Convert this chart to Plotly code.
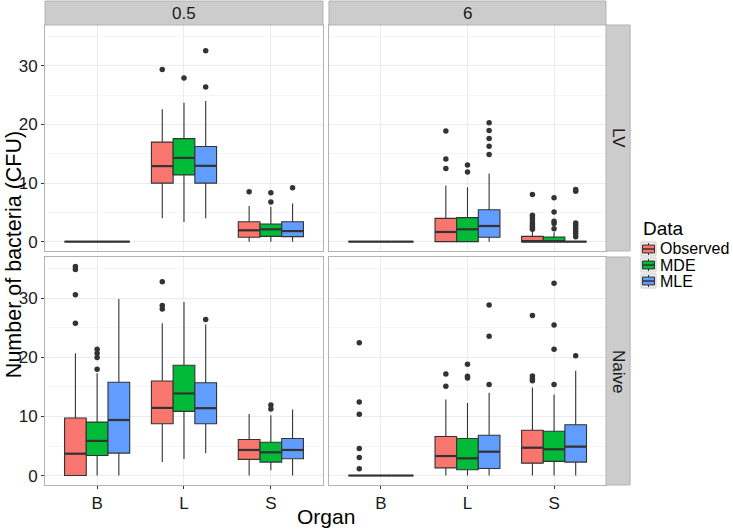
import plotly.graph_objects as go

organs = ["B", "L", "S"]
times = ["0.5", "6"]
groups = ["LV", "Naive"]
series = ["Observed", "MDE", "MLE"]
colors = ["#F8766D", "#00BA38", "#619CFF"]

# facet order: (LV,0.5), (LV,6), (Naive,0.5), (Naive,6); within each facet organs B, L, S
obs_lower = [0, 4.0, 0,    0, 0, 0,     0, 2.28, 0,     0, 0, 0]
obs_q1 =    [0, 10.0, 0.74, 0, 0, 0,    0, 8.76, 2.73,  0, 1.3, 2.1]
obs_med =   [0, 12.9, 1.93, 0, 1.65, 0, 3.7, 11.45, 4.33, 0, 3.3, 4.72]
obs_q3 =    [0, 17.0, 3.4,  0, 3.98, 0.9, 9.73, 16.0, 6.1, 0, 6.6, 7.68]
obs_upper = [0, 22.6, 6.1,  0, 9.6, 1.8, 20.7, 25.8, 10.4, 0, 12.86, 14.9]

mde_lower = [0, 3.35, 0,   0, 0, 0,     0, 2.8, 0.9,    0, 0, 0]
mde_q1 =    [0, 11.4, 0.9, 0, 0, 0,     3.4, 10.87, 2.28, 0, 0.97, 2.4]
mde_med =   [0, 14.3, 2.1, 0, 2.1, 0,   5.86, 13.9, 3.93, 0, 2.9, 4.44]
mde_q3 =    [0, 17.6, 3.0, 0, 4.1, 0.8, 9.05, 18.67, 5.63, 0, 6.26, 7.5]
mde_upper = [0, 23.7, 5.97, 0, 9.3, 1.6, 17.3, 29.4, 10.2, 0, 12.3, 13.7]

mle_lower = [0, 4.0, 0,    0, 0, 0,      0, 3.76, 0,    0, 0, 0]
mle_q1 =    [0, 10.0, 0.85, 0, 0.74, 0,  3.8, 8.76, 2.85, 0, 1.2, 2.28]
mle_med =   [0, 12.95, 1.8, 0, 2.67, 0,  9.4, 11.4, 4.33, 0, 4.04, 4.9]
mle_q3 =    [0, 16.25, 3.4, 0, 5.45, 0,  15.8, 15.7, 6.26, 0, 6.83, 8.6]
mle_upper = [0, 24.0, 6.5,  0, 11.65, 0, 29.9, 25.55, 11.2, 0, 14.0, 17.76]

obs_outliers = [[], [29.4], [8.5],
                [], [18.9, 14.1, 12.5], [8.07, 4.5, 4.1, 3.7, 3.2, 2.8, 2.4, 2.1],
                [35.4, 34.9, 30.6, 25.8], [32.8, 28.8, 28.2], [],
                [22.5, 12.46, 10.36, 4.6, 3.07, 1.14], [17.2, 15.1], [27.1, 16.85, 16.4, 16.05]]
mde_outliers = [[], [27.95], [8.35, 6.76],
                [], [13.07, 11.9], [7.5, 5.05, 3.5, 3.1, 2.2],
                [21.4, 20.7, 20.0, 18.0], [], [11.95, 11.27],
                [], [18.84, 16.8, 16.5], [32.55, 25.5, 21.4, 15.4]]
mle_outliers = [[], [32.6, 26.4], [9.2],
                [], [20.3, 19.0, 17.6, 16.3, 14.9], [8.9, 8.6, 3.2, 2.8, 2.3, 1.8, 1.4, 0.85],
                [], [26.4], [],
                [], [28.86, 23.56, 15.4], [20.26]]

stats = [
    (obs_lower, obs_q1, obs_med, obs_q3, obs_upper, obs_outliers),
    (mde_lower, mde_q1, mde_med, mde_q3, mde_upper, mde_outliers),
    (mle_lower, mle_q1, mle_med, mle_q3, mle_upper, mle_outliers),
]

dodge = [-0.25, 0.0, 0.25]
box_w = 0.25
line_col = "#333333"
FONT = "Liberation Sans, Arial, sans-serif"
W, H = 733, 529
ML, MR, MT, MB = 45, 127, 25, 44
PW, PH = W - ML - MR, H - MT - MB

fig = go.Figure()

for f in range(4):
    ax = "" if f == 0 else str(f + 1)
    sl = slice(3 * f, 3 * f + 3)
    for s in range(3):
        lo, q1, md, q3, up, outl = stats[s]
        xs = [i + 1 + dodge[s] for i in range(3)]
        fig.add_trace(go.Box(
            x=xs, q1=q1[sl], median=md[sl], q3=q3[sl],
            lowerfence=lo[sl], upperfence=up[sl],
            width=box_w, whiskerwidth=0,
            fillcolor=colors[s], line=dict(color=line_col, width=1.1),
            name=series[s], showlegend=False,
            boxpoints=False, xaxis="x" + ax, yaxis="y" + ax, hoverinfo="skip",
        ))
        # thicker median bar, as ggplot draws it
        mx, my = [], []
        for i, m in enumerate(md[sl]):
            mx += [xs[i] - box_w / 2, xs[i] + box_w / 2, None]
            my += [m, m, None]
        fig.add_trace(go.Scatter(
            x=mx, y=my, mode="lines", line=dict(color=line_col, width=2.2),
            showlegend=False, xaxis="x" + ax, yaxis="y" + ax, hoverinfo="skip",
        ))
        px, py = [], []
        for i in range(3):
            for v in outl[3 * f + i]:
                px.append(i + 1 + dodge[s])
                py.append(v)
        if px:
            fig.add_trace(go.Scatter(
                x=px, y=py, mode="markers",
                marker=dict(color=line_col, size=5.5),
                showlegend=False, xaxis="x" + ax, yaxis="y" + ax, hoverinfo="skip",
            ))

col_dom = [[0, 0.4955], [0.5062, 1]]
row_dom = [[0.5087, 1], [0, 0.4957]]

layout = dict(
    width=W, height=H,
    margin=dict(l=ML, r=MR, t=MT, b=MB, autoexpand=False),
    paper_bgcolor="white", plot_bgcolor="white",
    font=dict(family=FONT, color="#1a1a1a", size=17),
    showlegend=False,
)

for f in range(4):
    r, c = divmod(f, 2)
    ax = "" if f == 0 else str(f + 1)
    layout["xaxis" + ax] = dict(
        domain=col_dom[c], anchor="y" + ax, range=[0.4, 3.6],
        tickmode="array", tickvals=[1, 2, 3], ticktext=organs,
        showticklabels=(r == 1), ticks="outside" if r == 1 else "",
        ticklen=3, tickcolor="#333333", automargin=False,
        showgrid=True, gridcolor="#EBEBEB", gridwidth=1,
        showline=True, mirror=True, linecolor="#B3B3B3", linewidth=1,
        zeroline=False, tickfont=dict(size=17, color="#1a1a1a"),
    )
    layout["yaxis" + ax] = dict(
        domain=row_dom[r], anchor="x" + ax, range=[-1.6, 37.0],
        tickmode="array", tickvals=[0, 10, 20, 30],
        showticklabels=(c == 0), ticks="outside" if c == 0 else "",
        ticklen=3, tickcolor="#333333", automargin=False,
        showgrid=True, gridcolor="#EBEBEB", gridwidth=1,
        minor=dict(tickvals=[5, 15, 25, 35], showgrid=True, gridcolor="#F5F5F5", gridwidth=0.6),
        showline=True, mirror=True, linecolor="#B3B3B3", linewidth=1,
        zeroline=False, tickfont=dict(size=17, color="#1a1a1a"),
    )

shapes = []
annotations = []
strip_fill = "#CCCCCC"
strip_line = "#B3B3B3"
# top strips (time)
for c in range(2):
    ax = "" if c == 0 else str(c + 1)
    shapes.append(dict(type="rect", xref="x" + ax + " domain", yref="y" + ax + " domain",
                       x0=0, x1=1, y0=1.0, y1=1.106, fillcolor=strip_fill,
                       line=dict(color=strip_line, width=1), layer="above"))
    annotations.append(dict(text=times[c], xref="x" + ax + " domain", yref="y" + ax + " domain",
                            x=0.5, y=1.053, showarrow=False, font=dict(size=17, color="#1a1a1a"),
                            xanchor="center", yanchor="middle"))
# right strips (group)
for r in range(2):
    f = 2 * r + 1
    ax = str(f + 1)
    shapes.append(dict(type="rect", xref="x" + ax + " domain", yref="y" + ax + " domain",
                       x0=1.0, x1=1.087, y0=0, y1=1, fillcolor=strip_fill,
                       line=dict(color=strip_line, width=1), layer="above"))
    annotations.append(dict(text=groups[r], xref="x" + ax + " domain", yref="y" + ax + " domain",
                            x=1.0435, y=0.5, showarrow=False, textangle=90,
                            font=dict(size=17, color="#1a1a1a"),
                            xanchor="center", yanchor="middle"))

annotations.append(dict(text="Organ", xref="paper", yref="paper", x=0.5, y=-0.068,
                        xanchor="center", yanchor="middle", showarrow=False,
                        font=dict(size=21, color="#000000")))
annotations.append(dict(text="Number of bacteria (CFU)", xref="paper", yref="paper",
                        x=-0.055, y=0.5, xanchor="center", yanchor="middle", textangle=-90,
                        showarrow=False, font=dict(size=21.5, color="#000000")))


# legend (drawn manually to match the compact ggplot legend)
def px2x(p):
    return (p - ML) / PW


def px2y(p):
    return (H - MB - p) / PH


leg_left = 641
leg_title_y = 228
leg_first_y = 249
leg_pitch = 16
key = 14
annotations.append(dict(text="Data", xref="paper", yref="paper", x=px2x(leg_left), y=px2y(leg_title_y),
                        xanchor="left", yanchor="middle", showarrow=False,
                        font=dict(size=19, color="#000000")))
for s in range(3):
    cy = leg_first_y + s * leg_pitch
    x0, x1 = leg_left, leg_left + key + 1
    shapes.append(dict(type="rect", xref="paper", yref="paper",
                       x0=px2x(x0), x1=px2x(x1), y0=px2y(cy - key / 2), y1=px2y(cy + key / 2),
                       fillcolor="#F2F2F2", line=dict(color="#CCCCCC", width=1)))
    xm = (x0 + x1) / 2
    shapes.append(dict(type="line", xref="paper", yref="paper",
                       x0=px2x(xm), x1=px2x(xm), y0=px2y(cy - 6), y1=px2y(cy + 6),
                       line=dict(color=line_col, width=1)))
    shapes.append(dict(type="rect", xref="paper", yref="paper",
                       x0=px2x(x0 + 1.5), x1=px2x(x1 - 1.5), y0=px2y(cy - 4), y1=px2y(cy + 4),
                       fillcolor=colors[s], line=dict(color=line_col, width=1)))
    shapes.append(dict(type="line", xref="paper", yref="paper",
                       x0=px2x(x0 + 1.5), x1=px2x(x1 - 1.5), y0=px2y(cy), y1=px2y(cy),
                       line=dict(color=line_col, width=1.5)))
    annotations.append(dict(text=series[s], xref="paper", yref="paper", x=px2x(x1 + 2), y=px2y(cy),
                            xanchor="left", yanchor="middle", showarrow=False,
                            font=dict(size=16, color="#000000")))

layout["shapes"] = shapes
layout["annotations"] = annotations
fig.update_layout(**layout)

fig.write_html("out.html", config={"displayModeBar": False})

# remove the browser's default page margin so the figure sits at the window's corner
with open("out.html", "r", encoding="utf-8") as fh:
    html = fh.read()
html = html.replace("<head>", "<head><style>html,body{margin:0;padding:0;overflow:hidden;}</style>", 1)
with open("out.html", "w", encoding="utf-8") as fh:
    fh.write(html)
